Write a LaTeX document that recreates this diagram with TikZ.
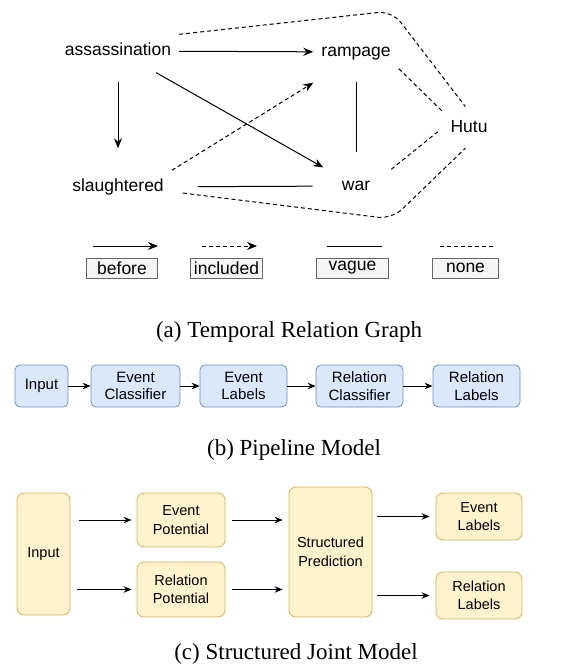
\documentclass[tikz,border=0pt]{standalone}
\usepackage{fontspec}
\setmainfont{Liberation Serif}
\newfontfamily\sansfont{Liberation Sans}
\usetikzlibrary{arrows.meta}
\definecolor{pipefill}{HTML}{DAE8FC}
\definecolor{pipedraw}{HTML}{6C8EBF}
\definecolor{jointfill}{HTML}{FFF2CC}
\definecolor{jointdraw}{HTML}{D6B656}
\definecolor{keyfill}{HTML}{F5F5F5}
\definecolor{keydraw}{HTML}{666666}
\begin{document}
\begin{tikzpicture}[x=1pt, y=-1pt,
    word/.style={font=\sansfont\fontsize{17.5}{20}\selectfont, inner sep=8pt, text height=13pt, text depth=4pt},
    before edge/.style={line width=1pt, -{Stealth[length=10pt,width=8pt]}},
    included edge/.style={before edge, dash pattern=on 4pt off 3pt},
    vague edge/.style={line width=1pt},
    none edge/.style={vague edge, dash pattern=on 4pt off 3pt},
    keybox/.style={draw=keydraw, fill=keyfill, line width=0.8pt, minimum height=20pt, inner sep=0pt, font=\sansfont\fontsize{17.5}{20}\selectfont},
    pipebox/.style={draw=pipedraw, fill=pipefill, rounded corners=5pt, line width=0.8pt, minimum height=42pt, inner sep=0pt, align=center, font=\sansfont\fontsize{15}{17.5}\selectfont},
    jointbox/.style={draw=jointdraw, fill=jointfill, rounded corners=7pt, line width=0.8pt, inner sep=0pt, align=center, font=\sansfont\fontsize{14.5}{18.5}\selectfont},
    flow/.style={line width=1pt, -{Stealth[length=8pt,width=6.5pt]}},
    caption/.style={font=\fontsize{23}{26}\selectfont}]
    \useasboundingbox (0,0) rectangle (567,671);

    % Temporal relation graph
    \node[word] (assassination) at (118,51) {assassination};
    \node[word] (rampage) at (356,52) {rampage};
    \node[word] (slaughtered) at (118,187) {slaughtered};
    \node[word] (war) at (356,186) {war};
    \node[word] (Hutu) at (469,128) {Hutu};
    \coordinate (topbend) at (392,11);
    \coordinate (lowbend) at (392,219);
    \draw[before edge] (assassination) -- (rampage);
    \draw[before edge, shorten <=14pt, shorten >=22pt] (assassination.south) -- (slaughtered.north);
    \draw[before edge, shorten <=10pt, shorten >=12pt] (assassination) -- (war);
    \draw[included edge] (slaughtered.north east) -- ([yshift=-14pt]rampage.south west);
    \draw[vague edge, shorten <=13pt, shorten >=17pt] (rampage.south) -- (war.north);
    \draw[vague edge, shorten <=26pt, shorten >=21pt] (slaughtered) -- (war);
    \draw[none edge] (rampage.south east) -- (Hutu.north west);
    \draw[none edge, shorten >=6pt] ([xshift=13pt]war.north east) -- (Hutu.west);
    \draw[none edge, rounded corners=14pt, shorten >=6pt] (assassination.north east) -- (topbend) -- (Hutu.north);
    \draw[none edge, rounded corners=14pt, shorten <=11pt, shorten >=5pt] (slaughtered.-5) -- (lowbend) -- (Hutu.south);

    % Legend
    \foreach \rel/\x/\w/\l/\r in {before/122/71/29/36, included/226.5/72/24.5/30.5, vague/352.5/72/25.5/29.5, none/465.5/66/25.5/27.5} {
        \node[keybox, minimum width=\w pt] (\rel) at (\x,268) {\rel};
        \coordinate (\rel from) at (\x-\l,246);
        \coordinate (\rel to) at (\x+\r,246);
        \draw[\rel\space edge] (\rel from) -- (\rel to);
    }
    \node[caption] (captiona) at (289,332) {(a) Temporal Relation Graph};

    % Pipeline model
    \foreach \name/\x/\w/\txt in {pinput/41.5/53/Input, pevcls/135.5/89/Event\\Classifier, pevlab/243.5/87/Event\\Labels, prelcls/359.5/87/Relation\\Classifier, prellab/476.5/87/Relation\\Labels}
        \node[pipebox, minimum width=\w pt] (\name) at (\x,386) {\txt};
    \foreach \a/\b in {pinput/pevcls, pevcls/pevlab, pevlab/prelcls, prelcls/prellab}
        \draw[flow] (\a) -- (\b);
    \node[caption] (captionb) at (294,450) {(b) Pipeline Model};

    % Structured joint model
    \node[jointbox, minimum width=53pt, minimum height=122pt] (jinput) at (43.5,554) {Input};
    \node[jointbox, minimum width=88pt, minimum height=54pt] (jevpot) at (181,520) {Event\\Potential};
    \node[jointbox, minimum width=88pt, minimum height=55pt] (jrelpot) at (181,589.5) {Relation\\Potential};
    \node[jointbox, minimum width=83pt, minimum height=130pt] (jstruct) at (330.5,552) {Structured\\Prediction};
    \node[jointbox, minimum width=86pt, minimum height=47pt] (jevlab) at (479,516.5) {Event\\Labels};
    \node[jointbox, minimum width=86pt, minimum height=47pt] (jrellab) at (479,595.5) {Relation\\Labels};
    \draw[flow, shorten <=9pt, shorten >=5pt] (jinput.east |- jevpot) -- (jevpot);
    \draw[flow, shorten <=7pt, shorten >=5pt] (jinput.east |- jrelpot) -- (jrelpot);
    \draw[flow, shorten <=7pt, shorten >=6pt] (jevpot) -- (jevpot -| jstruct.west);
    \draw[flow, shorten <=7pt, shorten >=6pt] (jrelpot) -- (jrelpot -| jstruct.west);
    \draw[flow, shorten <=5pt, shorten >=6pt] (jstruct.east |- jevlab) -- (jevlab);
    \draw[flow, shorten <=5pt, shorten >=6pt] (jstruct.east |- jrellab) -- (jrellab);
    \node[caption] (captionc) at (296,654) {(c) Structured Joint Model};
\end{tikzpicture}
\end{document}
